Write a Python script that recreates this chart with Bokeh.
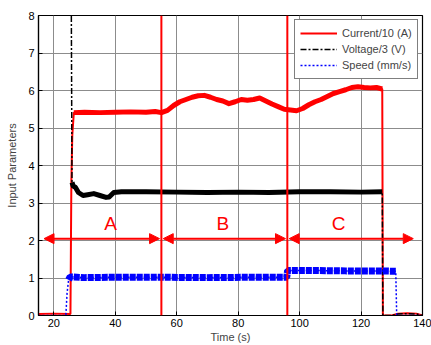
import numpy as np
from bokeh.plotting import figure
from bokeh.models import Range1d, Legend, LegendItem, Arrow, NormalHead, Span
from bokeh.embed import file_html
from bokeh.resources import INLINE
from bokeh.core.properties import value

# ---- data ----
# Current/10 (A)
cur_t = [15, 20, 25.4, 25.7, 26.0, 26.5, 30, 35, 40, 45, 50, 53, 55, 57, 59, 61, 63, 65, 67,
         69, 71, 73, 75, 77, 79, 81, 83, 85, 87, 89, 91, 93, 95, 97, 99, 101, 103, 105, 107,
         109, 111, 113, 115, 117, 119, 121, 123, 125, 126.9, 127.1, 130, 132, 135, 138, 140]
cur_v = [0.04, 0.05, 0.04, 3.6, 4.8, 5.41, 5.42, 5.41, 5.42, 5.43, 5.42, 5.44, 5.41, 5.47,
         5.6, 5.7, 5.76, 5.82, 5.86, 5.87, 5.82, 5.76, 5.72, 5.65, 5.7, 5.76, 5.74, 5.76, 5.8,
         5.72, 5.64, 5.57, 5.5, 5.48, 5.46, 5.52, 5.62, 5.7, 5.76, 5.84, 5.92, 5.97, 6.02,
         6.08, 6.1, 6.08, 6.07, 6.08, 6.04, 0.0, 0.0, 0.05, 0.06, 0.05, 0.0]

# Voltage/3 (V)
volt_t = [15, 25.6, 25.9, 26.3, 27, 28, 29.5, 31, 33, 35, 37, 38, 39.5, 42, 50, 60, 70, 80,
          90, 100, 110, 120, 126.9, 127.1, 130, 132, 135, 138, 140]
volt_v = [10.0, 10.0, 3.55, 3.45, 3.42, 3.28, 3.2, 3.22, 3.25, 3.2, 3.15, 3.16, 3.28, 3.3,
          3.3, 3.29, 3.28, 3.29, 3.28, 3.3, 3.3, 3.29, 3.3, 0.0, 0.0, 0.04, 0.05, 0.04, 0.0]

# Speed (mm/s)
spd_t = [15, 23.9, 24.3, 24.8, 25.3, 30, 40, 55, 70, 85, 95.8, 96.1, 105, 115, 125, 131.3,
         131.6, 135, 140]
spd_v = [0.0, 0.0, 0.6, 0.95, 1.03, 1.01, 1.02, 1.02, 1.01, 1.02, 1.02, 1.2, 1.2, 1.19, 1.19,
         1.18, 0.0, 0.0, 0.0]

phase_bounds = [55, 96]
phase_names = ["A", "B", "C"]
phase_arrows = [(16.8, 54.4), (55.6, 95.4), (96.6, 137.0)]
phase_arrow_y = 2.05
phase_label_x = [38.5, 75, 112.7]
phase_label_y = 2.45

x_ticks = [20, 40, 60, 80, 100, 120, 140]
y_ticks = [0, 1, 2, 3, 4, 5, 6, 7, 8]

FONT = "Liberation Sans"


def band(t, v, lim=0.3, floor=0.3):
    """Split the series where it jumps (and drop near-zero parts), so a thick
    noise band covers only the working plateaus."""
    bt, bv = [], []
    for i in range(len(v)):
        if v[i] < floor:
            bt.append(np.nan)
            bv.append(np.nan)
            continue
        if i > 0 and abs(v[i] - v[i - 1]) > lim:
            bt.append(np.nan)
            bv.append(np.nan)
        bt.append(t[i])
        bv.append(v[i])
    return np.array(bt, dtype=float), np.array(bv, dtype=float)


p = figure(width=431, height=345, output_backend="svg", toolbar_location=None,
           x_range=Range1d(15, 140), y_range=Range1d(0, 8),
           min_border_left=38, min_border_right=9, min_border_top=15, min_border_bottom=30)
p.background_fill_color = "white"
p.border_fill_color = "white"
p.outline_line_color = "black"
p.outline_line_width = 1.2

for ax in (p.xaxis, p.yaxis):
    ax.major_label_text_font = FONT
    ax.major_label_text_font_size = "11px"
    ax.major_label_text_color = "black"
    ax.axis_label_text_font = FONT
    ax.axis_label_text_font_size = "11px"
    ax.axis_label_text_font_style = "normal"
    ax.axis_line_color = "black"
    ax.axis_line_width = 1.2
    ax.major_tick_in = 4
    ax.major_tick_out = 0
    ax.minor_tick_line_color = None
    ax.major_tick_line_color = "black"

p.xaxis.ticker = x_ticks
p.yaxis.ticker = y_ticks
p.xaxis.axis_label = "Time (s)"
p.yaxis.axis_label = "Input Parameters"
p.xaxis.major_label_standoff = 3
p.xaxis.axis_label_standoff = 1
p.yaxis.major_label_standoff = 4
p.yaxis.axis_label_standoff = 7

p.xgrid.grid_line_color = "#8c8c8c"
p.ygrid.grid_line_color = "#8c8c8c"
p.xgrid.grid_line_width = 1
p.ygrid.grid_line_width = 1

# series
r_cur = p.line(cur_t, cur_v, line_color="red", line_width=2)
bt, bv = band(cur_t, cur_v)
p.line(bt, bv, line_color="red", line_width=5, line_join="round")

r_volt = p.line(volt_t, volt_v, line_color="black", line_width=1.5, line_dash="6 2 2 2")
bt, bv = band(volt_t, volt_v)
p.line(bt, bv, line_color="black", line_width=5, line_join="round")

r_spd = p.line(spd_t, spd_v, line_color="blue", line_width=1.5, line_dash="2 2")
bt, bv = band(spd_t, spd_v)
p.line(bt, bv, line_color="blue", line_width=7, line_dash="6 1")

for b in phase_bounds:
    p.add_layout(Span(location=b, dimension="height", line_color="red", line_width=2))

for (x0, x1) in phase_arrows:
    p.add_layout(Arrow(x_start=x0, y_start=phase_arrow_y, x_end=x1, y_end=phase_arrow_y,
                       line_color="red", line_width=2,
                       start=NormalHead(size=10, fill_color="red", line_color="red"),
                       end=NormalHead(size=10, fill_color="red", line_color="red")))

p.text(x=phase_label_x, y=[phase_label_y] * 3, text=phase_names, text_color="red",
       text_font=value(FONT), text_font_size="19px", text_align="center",
       text_baseline="middle")

legend = Legend(items=[LegendItem(label="Current/10 (A)", renderers=[r_cur]),
                       LegendItem(label="Voltage/3 (V)", renderers=[r_volt]),
                       LegendItem(label="Speed (mm/s)", renderers=[r_spd])],
                location=(256, 236))
legend.label_text_font = FONT
legend.label_text_font_size = "11px"
legend.padding = 5
legend.spacing = 0
legend.margin = 0
legend.glyph_width = 37
legend.glyph_height = 16
legend.label_height = 16
legend.label_standoff = 5
legend.border_line_color = "black"
legend.border_line_width = 1
legend.background_fill_color = "white"
legend.background_fill_alpha = 1
p.add_layout(legend, "center")

open("out.html", "w").write(file_html(p, INLINE))
